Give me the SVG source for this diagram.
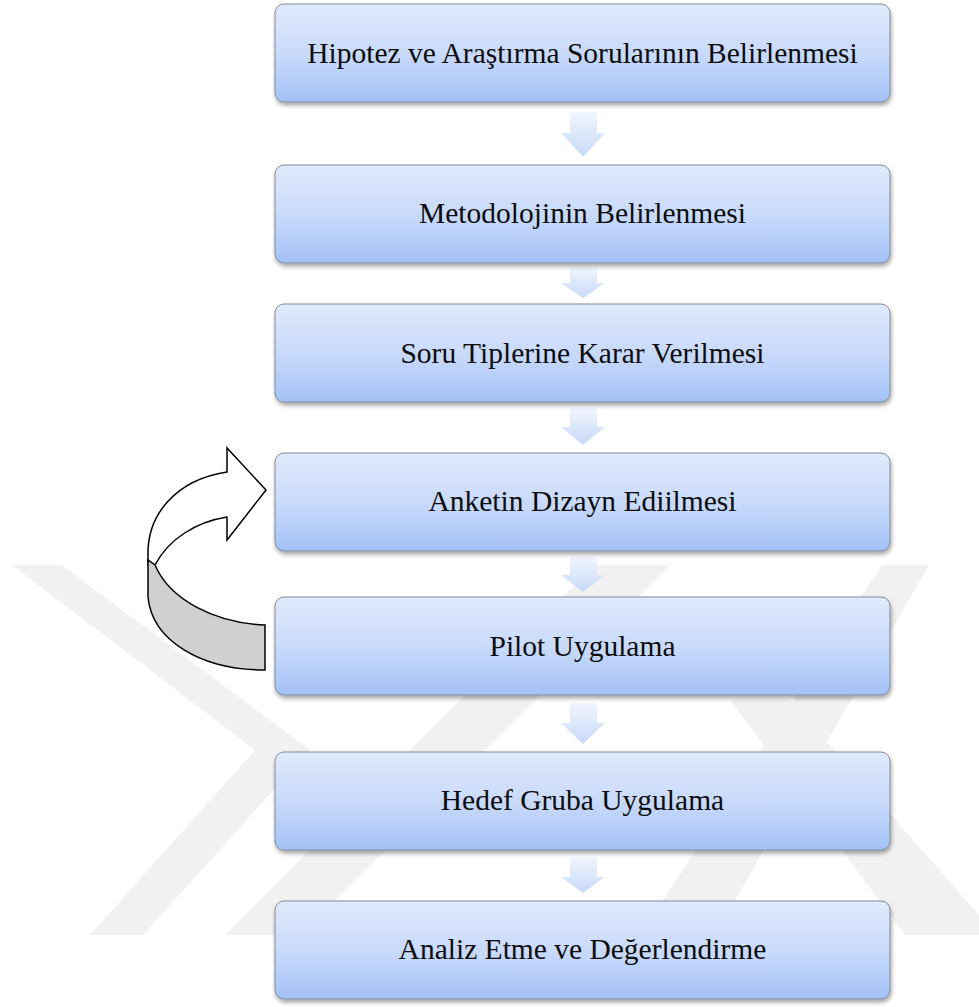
<svg xmlns="http://www.w3.org/2000/svg" width="979" height="1007" viewBox="0 0 979 1007">
  <defs>
    <linearGradient id="boxGrad" x1="0" y1="0" x2="0" y2="1">
      <stop offset="0" stop-color="#e1eafc"/>
      <stop offset="0.55" stop-color="#c6d8fa"/>
      <stop offset="1" stop-color="#a3c1f7"/>
    </linearGradient>
    <linearGradient id="arrGrad" x1="0" y1="0" x2="0" y2="1">
      <stop offset="0" stop-color="#f0f5fe"/>
      <stop offset="1" stop-color="#c8d9f8"/>
    </linearGradient>
    <filter id="shadow" x="-5%" y="-10%" width="110%" height="130%">
      <feDropShadow dx="1" dy="3" stdDeviation="2" flood-color="#000" flood-opacity="0.35"/>
    </filter>
    <style>
      .box { fill: url(#boxGrad); stroke: #7f8a99; stroke-width: 1; filter: url(#shadow); }
      .lbl { font-family: "Liberation Serif", "Times New Roman", serif; font-size: 29.5px; fill: #0d0d0d; text-anchor: middle; }
      .down { fill: url(#arrGrad); stroke: none; }
      .wm { fill: #f1f1f1; stroke: none; }
      .curve { stroke: #000; stroke-width: 1.5; stroke-linejoin: miter; }
    </style>
  </defs>
  <rect width="979" height="1007" fill="#ffffff"/>
  <g id="watermark">
    <polygon class="wm" points="12,565 62,565 310,750 143,935 90,935 255,750"/>
    <polygon class="wm" points="225,935 300,935 670,565 595,565"/>
    <polygon class="wm" points="640,935 715,935 929,565 882,565"/>
    <polygon class="wm" points="730,700 790,700 979,915 979,935 905,935"/>
  </g>
  <g id="connectors">
    <path class="down" d="M570,112 H597 V133 H605 L583,157 L561,133 H570 Z"/>
    <path class="down" d="M570,268 H597 V283 H605 L583,298 L561,283 H570 Z"/>
    <path class="down" d="M570,408 H597 V427 H605 L583,445 L561,427 H570 Z"/>
    <path class="down" d="M570,557 H597 V575 H605 L583,592 L561,575 H570 Z"/>
    <path class="down" d="M570,703 H597 V723 H605 L583,744 L561,723 H570 Z"/>
    <path class="down" d="M570,857 H597 V877 H605 L583,893 L561,877 H570 Z"/>
    <g id="loop-arrow">
      <path class="curve" fill="#ffffff" d="M148,565 L148,553 C148,515 175,480 227,472 L227,448 L266,490 L227,540 L227,517 C195,522 168,540 155,565 Z"/>
      <path class="curve" fill="#d0d0d0" d="M155,565 C170,600 215,623 265,625 L265,670 C200,670 152,640 148,597 L148,560 Z"/>
    </g>
  </g>
  <g id="node1">
    <rect class="box" x="275" y="4" width="615" height="98" rx="9"/>
    <text class="lbl" x="582.5" y="63">Hipotez ve Araştırma Sorularının Belirlenmesi</text>
  </g>
  <g id="node2">
    <rect class="box" x="275" y="165" width="615" height="98" rx="9"/>
    <text class="lbl" x="582.5" y="223">Metodolojinin Belirlenmesi</text>
  </g>
  <g id="node3">
    <rect class="box" x="275" y="304" width="615" height="98" rx="9"/>
    <text class="lbl" x="582.5" y="363">Soru Tiplerine Karar Verilmesi</text>
  </g>
  <g id="node4">
    <rect class="box" x="275" y="453" width="615" height="98" rx="9"/>
    <text class="lbl" x="582.5" y="511">Anketin Dizayn Ediilmesi</text>
  </g>
  <g id="node5">
    <rect class="box" x="275" y="597" width="615" height="98" rx="9"/>
    <text class="lbl" x="582.5" y="656">Pilot Uygulama</text>
  </g>
  <g id="node6">
    <rect class="box" x="275" y="752" width="615" height="98" rx="9"/>
    <text class="lbl" x="582.5" y="810">Hedef Gruba Uygulama</text>
  </g>
  <g id="node7">
    <rect class="box" x="275" y="901" width="615" height="98" rx="9"/>
    <text class="lbl" x="582.5" y="959">Analiz Etme ve Değerlendirme</text>
  </g>
</svg>
